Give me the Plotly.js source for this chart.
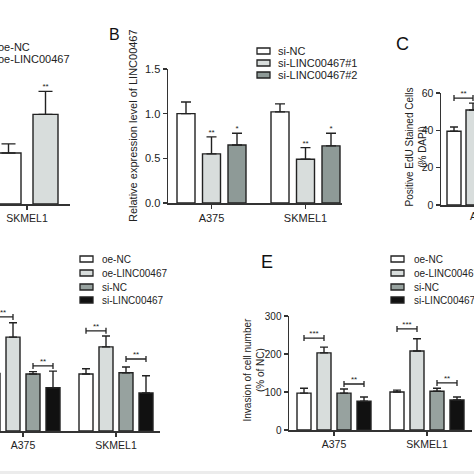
<!DOCTYPE html>
<html><head><meta charset="utf-8">
<script src="https://cdn.plot.ly/plotly-3.0.1.min.js"></script>
<style>html,body{margin:0;padding:0;background:#fff}#chart{width:474px;height:474px}</style>
</head><body><div id="chart"></div>
<script>
// ---------------- data ----------------
// Panel A (only SKMEL1 group visible)
const aGroups = ['SKMEL1'];
const aNames = ['oe-NC', 'oe-LINC00467'];
const aOeNC = [1.00], aOeNCErr = [0.18];
const aOeLINC = [1.76], aOeLINCErr = [0.45];
const aSig = ['**'];

// Panel B
const bGroups = ['A375', 'SKMEL1'];
const bNames = ['si-NC', 'si-LINC00467#1', 'si-LINC00467#2'];
const bSiNC = [1.00, 1.02], bSiNCErr = [0.13, 0.09];
const bSi1 = [0.55, 0.49], bSi1Err = [0.19, 0.13];
const bSi2 = [0.65, 0.64], bSi2Err = [0.13, 0.14];
const bSig1 = ['**', '**'], bSig2 = ['*', '*'];
const bYTicks = [0, 0.5, 1.0, 1.5];

// Panel C (only first two bars of A375 visible)
const cGroups = ['A375'];
const cYTicks = [0, 20, 40, 60];
const cCtrl = [39.5], cCtrlErr = [2.3];
const cOe = [50.9], cOeErr = [3.7];
const cBracket = [57.3], cSig = ['**'];

// Panels D and E
const deGroups = ['A375', 'SKMEL1'];
const deNames = ['oe-NC', 'oe-LINC00467', 'si-NC', 'si-LINC00467'];
const dOeNC = [100, 99], dOeNCErr = [8, 9];
const dOeLINC = [163, 146], dOeLINCErr = [25, 19];
const dSiNC = [99, 101], dSiNCErr = [4, 10];
const dSiLINC = [75, 66], dSiLINCErr = [29, 30];
const dBracketOe = [198, 174], dSigOe = ['**', '**'];
const dBracketSi = [113, 125], dSigSi = ['**', '**'];

const eYTicks = [0, 100, 200, 300];
const eOeNC = [97, 100], eOeNCErr = [13, 5];
const eOeLINC = [203, 208], eOeLINCErr = [15, 32];
const eSiNC = [97, 102], eSiNCErr = [11, 8];
const eSiLINC = [76, 79], eSiLINCErr = [11, 8];
const eBracketOe = [242, 266], eSigOe = ['***', '***'];
const eBracketSi = [121, 124], eSigSi = ['**', '**'];

// ---------------- styling / geometry ----------------
const W = 474, H = 474;
const px = v => v / W, py = v => 1 - v / H;
const FONT = 'Liberation Sans, Arial, sans-serif';
const INK = '#222';
const AX = '#333';
const C_WHITE = '#ffffff', C_LIGHT = '#d8dddc', C_MID = '#97a29f', C_DARK = '#8e9a97', C_BLACK = '#111111';

const P = {
  A: {n: '', xl: 0, xr: 70, yb: 204, yt: 69, unit: 94, g0: 27, bar: 25, step: 37, slots: 2, yr: [0, 2.65], cap: 7},
  B: {n: '2', xl: 168, xr: 342, yb: 203, yt: 69, unit: 94, g0: 211.5, bar: 18, step: 25.5, slots: 3, yr: [0, 1.5], cap: 5},
  C: {n: '3', xl: 441, xr: 474, yb: 205, yt: 93, unit: 94, g0: 482.5, bar: 14, step: 19, slots: 4, yr: [0, 60], cap: 4},
  D: {n: '4', xl: 0, xr: 160, yb: 431, yt: 287, unit: 93, g0: 23, bar: 14, step: 20, slots: 4, yr: [0, 250], cap: 4},
  E: {n: '5', xl: 289, xr: 472, yb: 430, yt: 316, unit: 93, g0: 334, bar: 14, step: 20, slots: 4, yr: [0, 300], cap: 4}
};
const slotC = (p, s) => (s - (p.slots - 1) / 2) * p.step / p.unit;
const idx = arr => arr.map((_, i) => i);

function bars(p, slot, groups, y, err, color) {
  const w = p.bar / p.unit;
  return {
    type: 'bar', x: idx(groups), y: y, xaxis: 'x' + p.n, yaxis: 'y' + p.n,
    width: w, offset: slotC(p, slot) - w / 2,
    marker: {color: color, line: {color: INK, width: 1.4}},
    error_y: {type: 'data', array: err, arrayminus: err.map(() => 0), symmetric: false,
              color: INK, thickness: 1.4, width: p.cap},
    showlegend: false, hoverinfo: 'skip'
  };
}
function starText(p, slot, groups, yTop, txt) {
  return {
    type: 'scatter', mode: 'text', x: idx(groups).map(i => i + slotC(p, slot)), y: yTop, text: txt,
    textposition: 'top center', textfont: {size: 8, color: INK, family: FONT},
    xaxis: 'x' + p.n, yaxis: 'y' + p.n, cliponaxis: false, showlegend: false, hoverinfo: 'skip'
  };
}
function bracket(p, sA, sB, groups, yv, txt) {
  const cA = slotC(p, sA), cB = slotC(p, sB);
  const mid = (cA + cB) / 2, half = (cB - cA) / 2;
  const xs = idx(groups).map(i => i + mid);
  return [{
    type: 'scatter', mode: 'markers', x: xs, y: yv, marker: {size: 1, opacity: 0},
    error_x: {type: 'constant', value: half, width: 3, thickness: 1.3, color: INK},
    xaxis: 'x' + p.n, yaxis: 'y' + p.n, showlegend: false, hoverinfo: 'skip'
  }, {
    type: 'scatter', mode: 'text', x: xs, y: yv, text: txt, textposition: 'top center',
    textfont: {size: 8, color: INK, family: FONT},
    xaxis: 'x' + p.n, yaxis: 'y' + p.n, cliponaxis: false, showlegend: false, hoverinfo: 'skip'
  }];
}
const sum = (a, b) => a.map((v, i) => v + b[i]);

const traces = [
  // A
  bars(P.A, 0, aGroups, aOeNC, aOeNCErr, C_WHITE),
  bars(P.A, 1, aGroups, aOeLINC, aOeLINCErr, C_LIGHT),
  starText(P.A, 1, aGroups, sum(aOeLINC, aOeLINCErr), aSig),
  // B
  bars(P.B, 0, bGroups, bSiNC, bSiNCErr, C_WHITE),
  bars(P.B, 1, bGroups, bSi1, bSi1Err, C_LIGHT),
  bars(P.B, 2, bGroups, bSi2, bSi2Err, C_DARK),
  starText(P.B, 1, bGroups, sum(bSi1, bSi1Err), bSig1),
  starText(P.B, 2, bGroups, sum(bSi2, bSi2Err), bSig2),
  // C
  bars(P.C, 0, cGroups, cCtrl, cCtrlErr, C_WHITE),
  bars(P.C, 1, cGroups, cOe, cOeErr, C_LIGHT),
  ...bracket(P.C, 0, 1, cGroups, cBracket, cSig),
  // D
  bars(P.D, 0, deGroups, dOeNC, dOeNCErr, C_WHITE),
  bars(P.D, 1, deGroups, dOeLINC, dOeLINCErr, C_LIGHT),
  bars(P.D, 2, deGroups, dSiNC, dSiNCErr, C_MID),
  bars(P.D, 3, deGroups, dSiLINC, dSiLINCErr, C_BLACK),
  ...bracket(P.D, 0, 1, deGroups, dBracketOe, dSigOe),
  ...bracket(P.D, 2, 3, deGroups, dBracketSi, dSigSi),
  // E
  bars(P.E, 0, deGroups, eOeNC, eOeNCErr, C_WHITE),
  bars(P.E, 1, deGroups, eOeLINC, eOeLINCErr, C_LIGHT),
  bars(P.E, 2, deGroups, eSiNC, eSiNCErr, C_MID),
  bars(P.E, 3, deGroups, eSiLINC, eSiLINCErr, C_BLACK),
  ...bracket(P.E, 0, 1, deGroups, eBracketOe, eSigOe),
  ...bracket(P.E, 2, 3, deGroups, eBracketSi, eSigSi)
];

const layout = {
  width: W, height: H, margin: {l: 0, r: 0, t: 0, b: 0},
  paper_bgcolor: '#fff', plot_bgcolor: 'rgba(0,0,0,0)',
  font: {family: FONT, color: INK, size: 11},
  showlegend: false, barmode: 'group',
  shapes: [], annotations: []
};

function addAxes(p, groups, opt) {
  const xr = [(p.xl - p.g0) / p.unit, (p.xr - p.g0) / p.unit];
  layout['xaxis' + p.n] = {
    domain: [px(p.xl), px(p.xr)], range: xr, anchor: 'y' + p.n,
    showline: true, linecolor: AX, linewidth: 1.5, ticks: 'outside', ticklen: 4, tickwidth: 1.3, tickcolor: AX,
    tickvals: idx(groups), ticktext: groups, tickfont: {size: opt.xfs, family: FONT, color: INK},
    showgrid: false, zeroline: false, fixedrange: true, showticklabels: opt.xlabels !== false
  };
  layout['yaxis' + p.n] = {
    domain: [py(p.yb), py(p.yt)], range: p.yr, anchor: 'x' + p.n,
    visible: !!opt.yticks, showline: true, linecolor: AX, linewidth: 1.5, ticks: 'outside', ticklen: 4,
    tickwidth: 1.3, tickcolor: AX, tickvals: opt.yticks || [], tickformat: opt.yfmt || '',
    tickfont: {size: opt.yfs || 11, family: FONT, color: INK},
    showgrid: false, zeroline: false, fixedrange: true
  };
}
addAxes(P.A, aGroups, {xfs: 10.5});
addAxes(P.B, bGroups, {xfs: 11, yticks: bYTicks, yfmt: '.1f', yfs: 11});
addAxes(P.C, cGroups, {xfs: 10.5, yticks: cYTicks, yfs: 10.5, xlabels: false});
addAxes(P.D, deGroups, {xfs: 10.5});
addAxes(P.E, deGroups, {xfs: 10.5, yticks: eYTicks, yfs: 10});

// group label of panel C, whose tick lies just past the right edge of the figure
layout.annotations.push({xref: 'paper', yref: 'paper', x: px(P.C.g0), y: py(216), text: cGroups[0], showarrow: false,
  xanchor: 'center', yanchor: 'middle', font: {size: 10.5, family: FONT, color: INK}});

// panel letters
[['B', 114, 35, 16], ['C', 402, 44, 18], ['E', 267, 262, 18]].forEach(([t, x, y, s]) =>
  layout.annotations.push({xref: 'paper', yref: 'paper', x: px(x), y: py(y), text: t, showarrow: false,
    xanchor: 'center', yanchor: 'middle', font: {size: s, family: FONT, color: '#111'}}));

// y-axis titles
[['Relative expression level of LINC00467', 133, 126, 11],
 ['Positive EdU Stained Cells<br>(% DAPI)', 415.5, 147, 10],
 ['Invasion of cell number<br>(% of NC)', 253.5, 369, 10]].forEach(([t, x, y, s]) =>
  layout.annotations.push({xref: 'paper', yref: 'paper', x: px(x), y: py(y), text: t, textangle: -90,
    showarrow: false, xanchor: 'center', yanchor: 'middle', font: {size: s, family: FONT, color: INK}}));

// legends (drawn manually: compact rows)
function legend(names, colors, boxX, textX, rows, fs) {
  names.forEach((nm, i) => {
    layout.shapes.push({type: 'rect', xref: 'paper', yref: 'paper', x0: px(boxX), x1: px(boxX + 13),
      y0: py(rows[i] + 3), y1: py(rows[i] - 3), fillcolor: colors[i], line: {color: INK, width: 1.3}});
    layout.annotations.push({xref: 'paper', yref: 'paper', x: px(textX), y: py(rows[i]), text: nm,
      showarrow: false, xanchor: 'left', yanchor: 'middle', font: {size: fs, family: FONT, color: INK}});
  });
}
legend(aNames, [C_WHITE, C_LIGHT], -24, -4, [47, 59], 11);
legend(bNames, [C_WHITE, C_LIGHT, C_DARK], 257, 276, [51, 63, 75], 11);
legend(deNames, [C_WHITE, C_LIGHT, C_MID, C_BLACK], 80, 100, [259, 273, 287, 300], 10);
legend(deNames, [C_WHITE, C_LIGHT, C_MID, C_BLACK], 391, 412, [259, 273, 287, 300], 10);

// faint frame edge at the bottom of the figure
layout.shapes.push({type: 'rect', xref: 'paper', yref: 'paper', x0: 0, x1: 1, y0: 0, y1: py(471),
  fillcolor: '#ececec', line: {width: 0}, layer: 'below'});

Plotly.newPlot('chart', traces, layout, {staticPlot: true, displayModeBar: false});
</script></body></html>
